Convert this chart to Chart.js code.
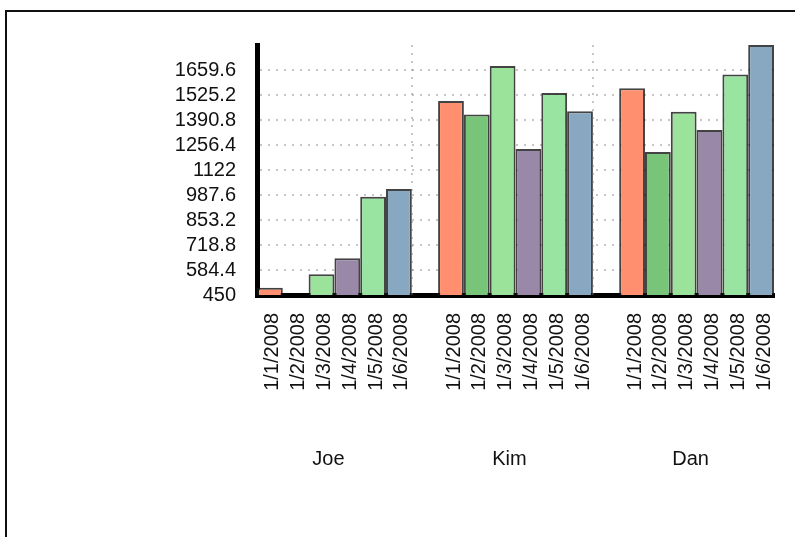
<!DOCTYPE html>
<html>
<head>
<meta charset="utf-8">
<script src="https://cdn.jsdelivr.net/npm/chart.js@4/dist/chart.umd.min.js"></script>
<style>
  html, body { margin: 0; padding: 0; overflow: hidden; background: #fff; }
  #frame { position: absolute; left: 5px; top: 10px; width: 900px; height: 700px; border: 2px solid #111; }
  #wrap { position: absolute; left: 0; top: 0; width: 795px; height: 537px; }
</style>
</head>
<body>
<div id="frame"></div>
<div id="wrap"><canvas id="chart" width="795" height="537"></canvas></div>
<script>
const people = ["Joe", "Kim", "Dan"];
const dates = ["1/1/2008", "1/2/2008", "1/3/2008", "1/4/2008", "1/5/2008", "1/6/2008"];

// one array per date, values for Joe, Kim, Dan
const jan1 = [489, 1493, 1561];
const jan2 = [450, 1421, 1219];
const jan3 = [561, 1681, 1435];
const jan4 = [647, 1235, 1337];
const jan5 = [978, 1536, 1636];
const jan6 = [1020, 1438, 1794];

const yTicks = [450, 584.4, 718.8, 853.2, 987.6, 1122, 1256.4, 1390.8, 1525.2, 1659.6];
const yMin = 450;
const yMax = 1794;

const series = [jan1, jan2, jan3, jan4, jan5, jan6];
const colors = ["#FF8F6F", "#78C478", "#9BE29B", "#9A88A8", "#98E4A0", "#88A8C2"];
const groupFrac = 0.855;
const gridColor = "rgba(110,110,110,0.4)";
const fontFamily = "'Liberation Sans', Arial, sans-serif";

const datasets = series.map((vals, i) => ({
    label: dates[i],
    data: vals.map((v, k) => ({ x: k, y: v })),
    backgroundColor: colors[i],
    borderColor: "rgba(20,20,20,0.8)",
    borderWidth: 2,
    categoryPercentage: groupFrac,
    barPercentage: 1
}));

// date labels under every bar, group names, dotted separators between groups
const barLabels = {
    id: "barLabels",
    afterDraw(chart) {
        const ctx = chart.ctx;
        const area = chart.chartArea;
        const metas = chart.data.datasets.map((ds, i) => chart.getDatasetMeta(i));
        const first = metas[0];
        const last = metas[metas.length - 1];
        ctx.save();
        ctx.strokeStyle = gridColor;
        ctx.lineWidth = 2;
        ctx.setLineDash([2, 6]);
        last.data.slice(0, -1).forEach(bar => {
            const x = Math.round(bar.x + bar.width / 2);
            ctx.beginPath();
            ctx.moveTo(x, area.top);
            ctx.lineTo(x, area.bottom);
            ctx.stroke();
        });
        ctx.setLineDash([]);
        ctx.font = "20px " + fontFamily;
        ctx.fillStyle = "#111";
        ctx.textAlign = "right";
        ctx.textBaseline = "middle";
        metas.forEach((meta, i) => {
            meta.data.forEach(bar => {
                ctx.save();
                ctx.translate(bar.x + 3, area.bottom + 18);
                ctx.rotate(-Math.PI / 2);
                ctx.fillText(chart.data.datasets[i].label, 0, 0);
                ctx.restore();
            });
        });
        ctx.textAlign = "center";
        ctx.textBaseline = "top";
        people.forEach((name, k) => {
            const l = first.data[k].x - first.data[k].width / 2;
            const r = last.data[k].x + last.data[k].width / 2;
            ctx.fillText(name, (l + r) / 2 - 6, area.bottom + 154);
        });
        ctx.restore();
    }
};

new Chart(document.getElementById("chart").getContext("2d"), {
    type: "bar",
    data: { datasets: datasets },
    options: {
        responsive: false,
        animation: false,
        layout: { padding: { top: 45, right: 21, left: 0, bottom: 0 } },
        plugins: { legend: { display: false }, tooltip: { enabled: false } },
        scales: {
            x: {
                type: "linear",
                offset: false,
                min: -groupFrac / 2,
                max: people.length - 1 + groupFrac / 2,
                z: 1,
                grid: { display: false, offset: false },
                border: { display: true, color: "#000", width: 5 },
                afterBuildTicks: s => { s.ticks = people.map((p, i) => ({ value: i })); },
                afterFit: s => { s.height = 242; },
                ticks: { display: false }
            },
            y: {
                min: yMin,
                max: yMax,
                z: 1,
                grid: { color: gridColor, lineWidth: 2, drawTicks: false },
                border: { display: true, color: "#000", width: 5, dash: [2, 6] },
                afterBuildTicks: s => { s.ticks = yTicks.map(v => ({ value: v })); },
                afterFit: s => { s.width = 257; },
                ticks: {
                    callback: v => String(v),
                    padding: 21,
                    color: "#111",
                    font: { family: fontFamily, size: 20 }
                }
            }
        }
    },
    plugins: [barLabels]
});
</script>
</body>
</html>
